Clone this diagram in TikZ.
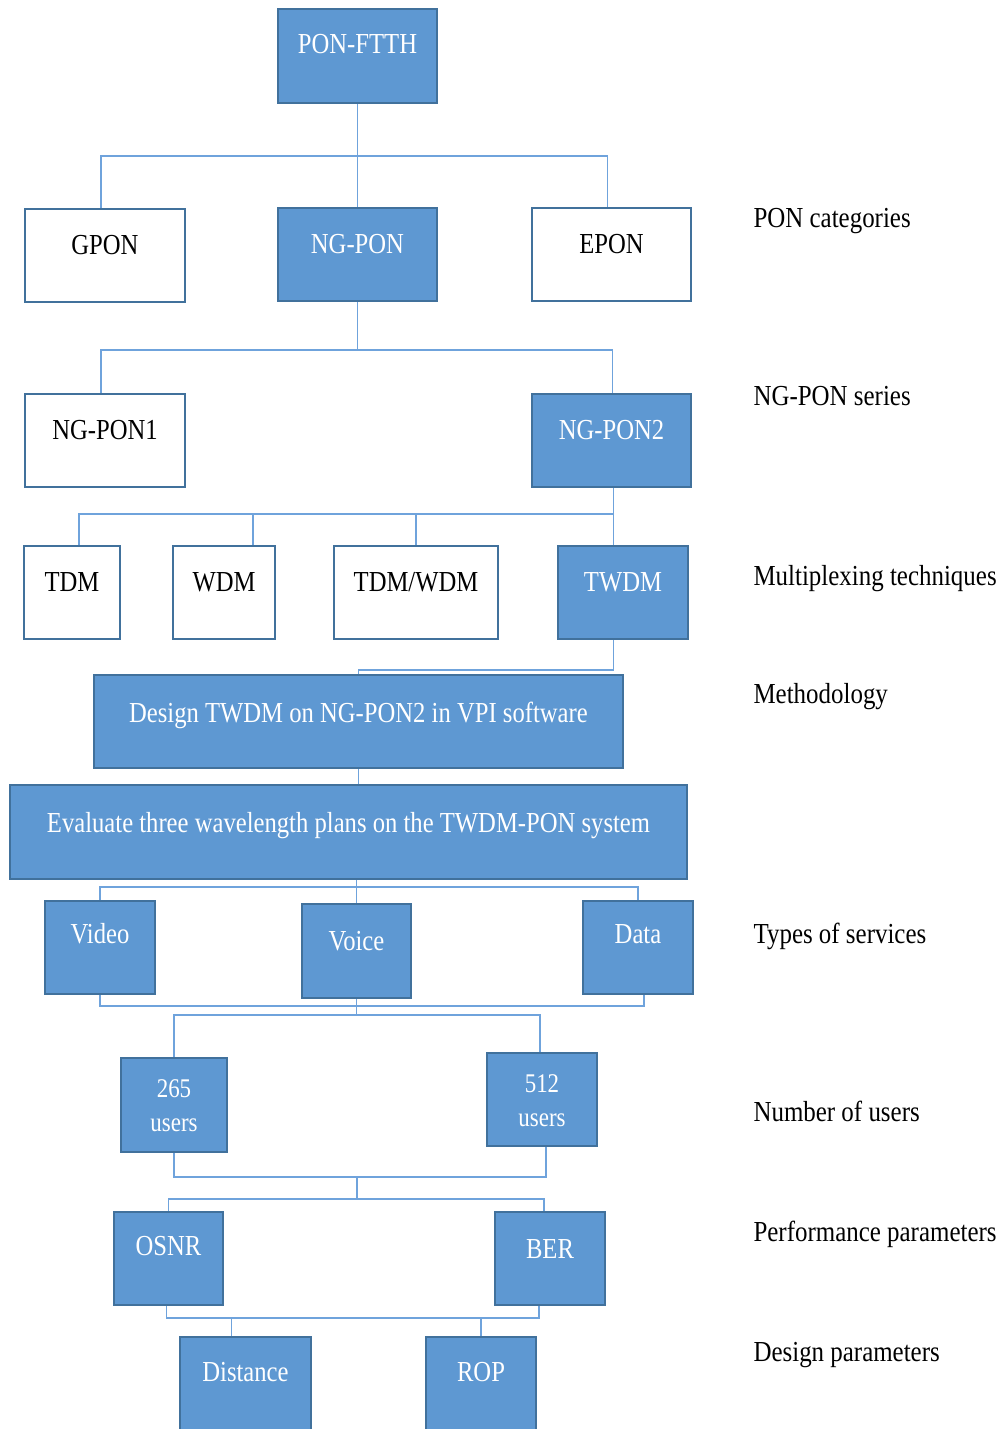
\documentclass[tikz,border=0pt]{standalone}
\usepackage{fontspec}
\setmainfont[FakeStretch=0.85]{Liberation Serif}
\newfontfamily\labfont[FakeStretch=0.86]{Liberation Serif}
\usetikzlibrary{backgrounds}
\definecolor{boxblue}{HTML}{5E98D2}
\definecolor{edgeblue}{HTML}{41719C}
\definecolor{lineblue}{HTML}{6FA3DC}
\begin{document}
\begin{tikzpicture}[x=1pt,y=-1pt,
  box/.style={draw=edgeblue, line width=2.6pt, inner sep=0pt, outer sep=0pt, anchor=north west,
    minimum height=93pt, text height=45pt, text depth=48pt,
    font=\fontsize{29}{34}\selectfont},
  bluebox/.style={box, fill=boxblue, text=white},
  whitebox/.style={box, fill=white, text=black},
  conn/.style={draw=lineblue, line width=1.6pt},
  lab/.style={anchor=base west, font=\labfont\fontsize{29}{34}\selectfont}]
\useasboundingbox (0,0) rectangle (1002,1429);

% boxes
\node[bluebox, minimum width=159pt, minimum height=94pt, text depth=49pt] (ftth) at (278,9) {PON-FTTH};
\node[whitebox, minimum width=160pt] (gpon) at (25,209) {GPON};
\node[bluebox, minimum width=159pt] (ngpon) at (278,208) {NG-PON};
\node[whitebox, minimum width=159pt] (epon) at (532,208) {EPON};
\node[whitebox, minimum width=160pt] (ngpon1) at (25,394) {NG-PON1};
\node[bluebox, minimum width=159pt] (ngpon2) at (532,394) {NG-PON2};
\node[whitebox, minimum width=96pt] (tdm) at (24,546) {TDM};
\node[whitebox, minimum width=102pt] (wdm) at (173,546) {WDM};
\node[whitebox, minimum width=164pt] (tdmwdm) at (334,546) {TDM/WDM};
\node[bluebox, minimum width=130pt] (twdm) at (558,546) {TWDM};
\node[bluebox, minimum width=529pt, text height=47pt, text depth=46pt] (design) at (94,675) {Design TWDM on NG-PON2 in VPI software};
\node[bluebox, minimum width=677pt, minimum height=94pt, text height=47pt, text depth=47pt] (evaluate) at (10,785) {Evaluate three wavelength plans on the TWDM-PON system};
\node[bluebox, minimum width=110pt, text height=42pt, text depth=51pt] (video) at (45,901) {Video};
\node[bluebox, minimum width=109pt, minimum height=94pt, text height=46pt, text depth=48pt] (voice) at (302,904) {Voice};
\node[bluebox, minimum width=110pt, text height=42pt, text depth=51pt] (data) at (583,901) {Data};
\node[bluebox, minimum width=106pt, minimum height=94pt, text height=39pt, text depth=55pt] (u265) at (121,1058)
  {\fontsize{27}{34}\selectfont\begin{tabular}[t]{@{}c@{}}265\\users\end{tabular}};
\node[bluebox, minimum width=110pt, text height=39pt, text depth=54pt] (u512) at (487,1053)
  {\fontsize{27}{34}\selectfont\begin{tabular}[t]{@{}c@{}}512\\users\end{tabular}};
\node[bluebox, minimum width=109pt, text height=43pt, text depth=50pt] (osnr) at (114,1212) {OSNR};
\node[bluebox, minimum width=110pt, text height=46pt, text depth=47pt] (ber) at (495,1212) {BER};
\node[bluebox, minimum width=131pt, minimum height=95pt, text height=44pt, text depth=51pt] (distance) at (180,1337) {Distance};
\node[bluebox, minimum width=110pt, minimum height=95pt, text height=44pt, text depth=51pt] (rop) at (426,1337) {ROP};

% side labels
\node[lab] (l1) at (750,227) {PON categories};
\node[lab] (l2) at (750,405) {NG-PON series};
\node[lab] (l3) at (750,585) {Multiplexing techniques};
\node[lab] (l4) at (750,703) {Methodology};
\node[lab] (l5) at (750,943) {Types of services};
\node[lab] (l6) at (750,1121) {Number of users};
\node[lab] (l7) at (750,1241) {Performance parameters};
\node[lab] (l8) at (750,1361) {Design parameters};

% junctions
\coordinate (j1) at (357.5,156);
\coordinate (j2) at (357.5,350);
\coordinate (j3) at (613.5,514);
\coordinate (j4) at (358.5,670);
\coordinate (j5) at (356.5,887);
\coordinate (j6) at (356.5,1006);
\coordinate (j7) at (356.5,1015);
\coordinate (j8) at (357,1177);
\coordinate (j9) at (357,1199);
\coordinate (j10) at (231.5,1318);
\coordinate (j11) at (481,1318);

\begin{scope}[on background layer]
\fill[white] (0,0) rectangle (1002,1429);
\draw[conn] (ftth.south) -- (ngpon.north);
\draw[conn] ([xshift=-4pt]gpon.north) |- (j1) -| ([xshift=-4pt]epon.north);
\draw[conn] (ngpon.south) -- (j2);
\draw[conn] ([xshift=-4pt]ngpon1.north) |- (j2) -| ([xshift=1pt]ngpon2.north);
\draw[conn] ([xshift=2pt]ngpon2.south) -- (j3);
\draw[conn] ([xshift=7pt]tdm.north) |- (j3);
\draw[conn] ([xshift=29pt]wdm.north) -- ++(0,-32);
\draw[conn] (tdmwdm.north) -- ++(0,-32);
\draw[conn] ([xshift=-9.5pt]twdm.north) -- (j3);
\draw[conn] ([xshift=-9.5pt]twdm.south) |- (j4) -- (design.north);
\draw[conn] (design.south) -- (design.south |- evaluate.north);
\draw[conn] (voice.north |- evaluate.south) -- (voice.north);
\draw[conn] (video.north) |- (j5) -| (data.north);
\draw[conn] (video.south) |- (j6) -| ([xshift=6pt]data.south);
\draw[conn] (voice.south) -- (j7);
\draw[conn] (u265.north) |- (j7) -| ([xshift=-2pt]u512.north);
\draw[conn] (u265.south) |- (j8) -| ([xshift=4pt]u512.south);
\draw[conn] (j8) -- (j9);
\draw[conn] (osnr.north) |- (j9) -| ([xshift=-6pt]ber.north);
\draw[conn] ([xshift=-2pt]osnr.south) |- (j10) -- (j11) -| ([xshift=-11pt]ber.south);
\draw[conn] (j10) -- ([xshift=-14pt]distance.north);
\draw[conn] (j11) -- (rop.north);
\end{scope}
\end{tikzpicture}
\end{document}
